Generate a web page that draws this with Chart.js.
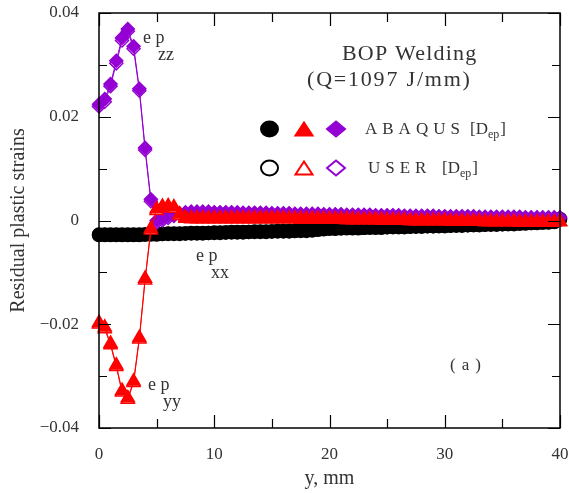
<!DOCTYPE html>
<html>
<head>
<meta charset="utf-8">
<script src="https://cdn.jsdelivr.net/npm/chart.js@4.4.1/dist/chart.umd.min.js"></script>
<style>
  html, body { margin: 0; padding: 0; background: #fff; }
  canvas { display: block; }
</style>
</head>
<body>
<canvas id="chart" width="569" height="493"></canvas>
<script>
// distance from weld centre, mm (node positions)
const yPos = [
  0, 0.5, 1, 1.5, 2, 2.5, 3, 3.5, 4, 4.5,
  5, 5.5, 6, 6.5, 7, 7.5, 8, 8.5, 9, 9.5,
  10, 10.5, 11, 11.5, 12, 12.5, 13, 13.5, 14, 14.5,
  15, 15.5, 16, 16.5, 17, 17.5, 18, 18.5, 19, 19.5,
  20, 20.5, 21, 21.5, 22, 22.5, 23, 23.5, 24, 24.5,
  25, 25.5, 26, 26.5, 27, 27.5, 28, 28.5, 29, 29.5,
  30, 30.5, 31, 31.5, 32, 32.5, 33, 33.5, 34, 34.5,
  35, 35.5, 36, 36.5, 37, 37.5, 38, 38.5, 39, 39.5,
  40
];

// ep_xx
const xxAbaqus = [
  -0.0027, -0.0027, -0.0027, -0.0027, -0.0027, -0.0027, -0.0027, -0.0027, -0.0027, -0.0026,
  -0.0026, -0.0026, -0.0025, -0.0025, -0.0025, -0.0025, -0.0024, -0.0024, -0.0024, -0.0024,
  -0.0023, -0.0023, -0.0023, -0.0022, -0.0022, -0.0022, -0.0022, -0.0021, -0.0021, -0.0021,
  -0.0021, -0.0020, -0.0020, -0.0020, -0.0020, -0.0019, -0.0019, -0.0019, -0.0017, -0.0016,
  -0.0015, -0.0015, -0.0015, -0.0014, -0.0014, -0.0014, -0.0014, -0.0013, -0.0013, -0.0013,
  -0.0013, -0.0012, -0.0012, -0.0012, -0.0012, -0.0011, -0.0011, -0.0011, -0.0011, -0.0010,
  -0.0010, -0.0010, -0.0009, -0.0009, -0.0009, -0.0008, -0.0008, -0.0008, -0.0007, -0.0007,
  -0.0007, -0.0006, -0.0006, -0.0006, -0.0005, -0.0005, -0.0004, -0.0004, -0.0003, -0.0002,
  0.0003
];
const xxUser = [
  -0.0028, -0.0028, -0.0028, -0.0028, -0.0028, -0.0028, -0.0028, -0.0028, -0.0027, -0.0027,
  -0.0027, -0.0026, -0.0026, -0.0026, -0.0026, -0.0025, -0.0025, -0.0025, -0.0025, -0.0024,
  -0.0024, -0.0024, -0.0023, -0.0023, -0.0023, -0.0023, -0.0022, -0.0022, -0.0022, -0.0022,
  -0.0021, -0.0021, -0.0021, -0.0021, -0.0020, -0.0020, -0.0020, -0.0019, -0.0018, -0.0017,
  -0.0016, -0.0016, -0.0015, -0.0015, -0.0015, -0.0015, -0.0014, -0.0014, -0.0014, -0.0014,
  -0.0013, -0.0013, -0.0013, -0.0013, -0.0012, -0.0012, -0.0012, -0.0011, -0.0011, -0.0011,
  -0.0011, -0.0010, -0.0010, -0.0010, -0.0009, -0.0009, -0.0009, -0.0008, -0.0008, -0.0008,
  -0.0007, -0.0007, -0.0007, -0.0006, -0.0006, -0.0005, -0.0005, -0.0004, -0.0004, -0.0003,
  0.0002
];

// ep_yy
const yyAbaqus = [
  -0.0197, -0.0206, -0.0237, -0.0279, -0.0328, -0.0342, -0.0310, -0.0226, -0.0112, -0.0016,
  0.0022, 0.0027, 0.0028, 0.0026, 0.0012, 0.0006, 0.0005, 0.0005, 0.0005, 0.0005,
  0.0005, 0.0005, 0.0005, 0.0005, 0.0005, 0.0005, 0.0005, 0.0005, 0.0005, 0.0005,
  0.0005, 0.0005, 0.0005, 0.0004, 0.0004, 0.0004, 0.0004, 0.0004, 0.0004, 0.0004,
  0.0003, 0.0003, 0.0003, 0.0003, 0.0003, 0.0002, 0.0002, 0.0002, 0.0002, 0.0002,
  0.0001, 0.0001, 0.0001, 0.0001, 0.0000, 0.0000, 0.0000, 0.0000, 0.0000, 0.0000,
  0.0000, -0.0001, -0.0001, -0.0001, -0.0001, -0.0001, -0.0001, -0.0002, -0.0002, -0.0002,
  -0.0002, -0.0002, -0.0002, -0.0003, -0.0003, -0.0003, -0.0003, -0.0003, -0.0003, -0.0003,
  -0.0002
];
const yyUser = [
  -0.0200, -0.0209, -0.0240, -0.0282, -0.0331, -0.0345, -0.0313, -0.0229, -0.0115, -0.0019,
  0.0019, 0.0024, 0.0025, 0.0023, 0.0009, 0.0004, 0.0003, 0.0003, 0.0003, 0.0003,
  0.0003, 0.0003, 0.0003, 0.0003, 0.0003, 0.0003, 0.0003, 0.0003, 0.0003, 0.0003,
  0.0003, 0.0003, 0.0003, 0.0003, 0.0003, 0.0002, 0.0002, 0.0002, 0.0002, 0.0002,
  0.0002, 0.0002, 0.0002, 0.0001, 0.0001, 0.0001, 0.0001, 0.0001, 0.0001, 0.0000,
  0.0000, 0.0000, 0.0000, 0.0000, -0.0001, -0.0001, -0.0001, -0.0001, -0.0001, -0.0001,
  -0.0001, -0.0002, -0.0002, -0.0002, -0.0002, -0.0002, -0.0002, -0.0003, -0.0003, -0.0003,
  -0.0003, -0.0003, -0.0003, -0.0004, -0.0004, -0.0004, -0.0004, -0.0004, -0.0004, -0.0004,
  -0.0003
];

// ep_zz
const zzAbaqus = [
  0.0224, 0.0234, 0.0263, 0.0308, 0.0352, 0.0369, 0.0336, 0.0254, 0.0140, 0.0041,
  0.0000, 0.0004, 0.0009, 0.0012, 0.0014, 0.0016, 0.0017, 0.0017, 0.0017, 0.0017,
  0.0016, 0.0016, 0.0016, 0.0016, 0.0016, 0.0015, 0.0015, 0.0015, 0.0015, 0.0015,
  0.0014, 0.0014, 0.0014, 0.0014, 0.0013, 0.0013, 0.0013, 0.0013, 0.0013, 0.0012,
  0.0012, 0.0012, 0.0012, 0.0011, 0.0011, 0.0011, 0.0011, 0.0011, 0.0010, 0.0010,
  0.0010, 0.0010, 0.0010, 0.0009, 0.0009, 0.0009, 0.0009, 0.0009, 0.0009, 0.0008,
  0.0008, 0.0008, 0.0008, 0.0008, 0.0008, 0.0008, 0.0007, 0.0007, 0.0007, 0.0007,
  0.0007, 0.0007, 0.0007, 0.0007, 0.0006, 0.0006, 0.0006, 0.0006, 0.0006, 0.0006,
  0.0006
];
const zzUser = [
  0.0220, 0.0229, 0.0259, 0.0303, 0.0347, 0.0365, 0.0331, 0.0250, 0.0136, 0.0037,
  -0.0004, 0.0000, 0.0005, 0.0009, 0.0012, 0.0014, 0.0015, 0.0015, 0.0015, 0.0015,
  0.0015, 0.0015, 0.0015, 0.0015, 0.0014, 0.0014, 0.0014, 0.0014, 0.0014, 0.0014,
  0.0013, 0.0013, 0.0013, 0.0013, 0.0012, 0.0012, 0.0012, 0.0012, 0.0012, 0.0011,
  0.0011, 0.0011, 0.0011, 0.0010, 0.0010, 0.0010, 0.0010, 0.0010, 0.0009, 0.0009,
  0.0009, 0.0009, 0.0009, 0.0008, 0.0008, 0.0008, 0.0008, 0.0008, 0.0008, 0.0007,
  0.0007, 0.0007, 0.0007, 0.0007, 0.0007, 0.0007, 0.0006, 0.0006, 0.0006, 0.0006,
  0.0006, 0.0006, 0.0006, 0.0006, 0.0005, 0.0005, 0.0005, 0.0005, 0.0005, 0.0005,
  0.0005
];

const xTicks = [0, 10, 20, 30, 40];
const yTicks = [-0.04, -0.02, 0, 0.02, 0.04];

const SERIF = '"Liberation Serif", "DejaVu Serif", serif';
const PURPLE = '#9400d3';
const RED = '#ff0000';
const BLACK = '#000000';
const TEXT = '#333333';

function makeSet(label, ys, color, style, radius, filled, order) {
  return {
    label: label,
    data: yPos.map((x, i) => ({ x: x, y: ys[i] })),
    borderColor: color,
    borderWidth: 1,
    pointStyle: style,
    pointRadius: radius,
    pointBorderColor: color,
    pointBorderWidth: 1.5,
    pointBackgroundColor: filled ? color : '#ffffff',
    tension: 0,
    clip: false,
    order: order
  };
}

// keep the plot box fixed, ignore the label overhang padding
function fixBox(s, size) {
  if (s.isHorizontal()) s.height = size; else s.width = size;
  s.paddingLeft = 0; s.paddingRight = 0;
  s.paddingTop = 0; s.paddingBottom = 0;
}

// frame, inward ticks and text annotations
const decorations = {
  id: 'decorations',
  afterDraw(chart) {
    const ctx = chart.ctx;
    const a = chart.chartArea;
    const xs = chart.scales.x;
    const ys = chart.scales.y;
    ctx.save();
    ctx.strokeStyle = '#000';
    ctx.lineWidth = 1.5;
    ctx.strokeRect(a.left, a.top, a.right - a.left, a.bottom - a.top);

    ctx.lineWidth = 1.2;
    ctx.beginPath();
    for (let k = 0; k <= 8; k++) {
      const v = -0.04 + k * 0.01;
      const py = Math.round(ys.getPixelForValue(v)) + 0.5;
      const len = k % 2 === 0 ? 12 : 8;
      ctx.moveTo(a.left, py); ctx.lineTo(a.left + len, py);
      ctx.moveTo(a.right, py); ctx.lineTo(a.right - len, py);
    }
    for (let k = 0; k <= 8; k++) {
      const px = Math.round(xs.getPixelForValue(k * 5)) + 0.5;
      const len = k % 2 === 0 ? 13 : 9;
      ctx.moveTo(px, a.bottom); ctx.lineTo(px, a.bottom - len);
      ctx.moveTo(px, a.top); ctx.lineTo(px, a.top + len);
    }
    ctx.stroke();

    ctx.fillStyle = TEXT;
    ctx.textBaseline = 'alphabetic';
    ctx.textAlign = 'left';

    // title block
    ctx.font = '22px ' + SERIF;
    ctx.letterSpacing = '1.2px';
    ctx.fillText('BOP Welding', 342, 60);
    ctx.letterSpacing = '1.8px';
    ctx.fillText('(Q=1097 J/mm)', 307, 86);

    // strain labels
    ctx.font = '18px ' + SERIF;
    ctx.letterSpacing = '0px';
    const lab = (t1, t2, x, y) => {
      ctx.fillText(t1, x, y);
      ctx.fillText(t2, x + 15, y + 17);
    };
    lab('e p', 'zz', 143, 43);
    lab('e p', 'xx', 196, 261);
    lab('e p', 'yy', 148, 390);

    ctx.font = '17px ' + SERIF;
    ctx.letterSpacing = '6px';
    ctx.fillText('(a)', 450, 370);

    // legend
    const rows = [
      { y: 129, filled: true, name: 'ABAQUS', tx: 365, bx: 470 },
      { y: 168, filled: false, name: 'USER', tx: 368, bx: 442 }
    ];
    rows.forEach(r => {
      ctx.lineWidth = 2;
      // circle
      ctx.beginPath();
      ctx.ellipse(269.5, r.y, 8.5, 7.5, 0, 0, Math.PI * 2);
      ctx.fillStyle = r.filled ? BLACK : '#fff';
      ctx.strokeStyle = BLACK;
      ctx.fill(); ctx.stroke();
      // triangle
      ctx.beginPath();
      ctx.moveTo(304, r.y - 6.5);
      ctx.lineTo(312.5, r.y + 6.5);
      ctx.lineTo(295.5, r.y + 6.5);
      ctx.closePath();
      ctx.fillStyle = r.filled ? RED : '#fff';
      ctx.strokeStyle = RED;
      ctx.fill(); ctx.stroke();
      // diamond
      ctx.beginPath();
      ctx.moveTo(336, r.y - 7.5);
      ctx.lineTo(345, r.y);
      ctx.lineTo(336, r.y + 7.5);
      ctx.lineTo(327, r.y);
      ctx.closePath();
      ctx.fillStyle = r.filled ? PURPLE : '#fff';
      ctx.strokeStyle = PURPLE;
      ctx.fill(); ctx.stroke();

      ctx.fillStyle = TEXT;
      ctx.font = '17px ' + SERIF;
      ctx.letterSpacing = '5px';
      ctx.fillText(r.name, r.tx, r.y + 5);
      ctx.letterSpacing = '0px';
      ctx.fillText('[D', r.bx, r.y + 5);
      const w = ctx.measureText('[D').width;
      ctx.font = '12px ' + SERIF;
      ctx.fillText('ep', r.bx + w, r.y + 9);
      const w2 = ctx.measureText('ep').width;
      ctx.font = '17px ' + SERIF;
      ctx.fillText(']', r.bx + w + w2 + 1, r.y + 5);
    });
    ctx.restore();
  }
};

const ctx = document.getElementById('chart').getContext('2d');
new Chart(ctx, {
  type: 'line',
  data: {
    datasets: [
      makeSet('ep_yy ABAQUS', yyAbaqus, RED, 'triangle', 7.5, true, 1),
      makeSet('ep_yy USER', yyUser, RED, 'triangle', 7.5, false, 2),
      makeSet('ep_zz ABAQUS', zzAbaqus, PURPLE, 'rectRot', 6.5, true, 3),
      makeSet('ep_zz USER', zzUser, PURPLE, 'rectRot', 6.5, false, 4),
      makeSet('ep_xx ABAQUS', xxAbaqus, BLACK, 'circle', 6.5, true, 5),
      makeSet('ep_xx USER', xxUser, BLACK, 'circle', 6.5, false, 6)
    ]
  },
  options: {
    responsive: false,
    animation: false,
    layout: { padding: { top: 13, right: 6, left: 0, bottom: 0 } },
    plugins: {
      legend: { display: false },
      tooltip: { enabled: false }
    },
    scales: {
      x: {
        type: 'linear',
        min: 0,
        max: 40,
        afterFit: s => fixBox(s, 65),
        afterBuildTicks: s => { s.ticks = xTicks.map(v => ({ value: v })); },
        grid: { display: false },
        border: { display: false },
        ticks: {
          padding: 8,
          color: TEXT,
          font: { family: SERIF, size: 17 },
          maxRotation: 0,
          callback: v => String(v)
        },
        title: {
          display: true,
          text: 'y, mm',
          color: TEXT,
          font: { family: SERIF, size: 20 },
          padding: { top: 0, bottom: 2 }
        }
      },
      y: {
        min: -0.04,
        max: 0.04,
        afterFit: s => fixBox(s, 99),
        afterBuildTicks: s => { s.ticks = yTicks.map(v => ({ value: v })); },
        grid: { display: false },
        border: { display: false },
        ticks: {
          padding: 12,
          color: TEXT,
          font: { family: SERIF, size: 17 },
          callback: v => {
            if (Math.abs(v) < 1e-9) return '0';
            return (v < 0 ? '\u2212' : '') + Math.abs(v).toFixed(2);
          }
        },
        title: {
          display: true,
          text: 'Residual plastic strains',
          color: TEXT,
          font: { family: SERIF, size: 20 },
          padding: { top: 7, bottom: 0 }
        }
      }
    }
  },
  plugins: [decorations]
});
</script>
</body>
</html>
